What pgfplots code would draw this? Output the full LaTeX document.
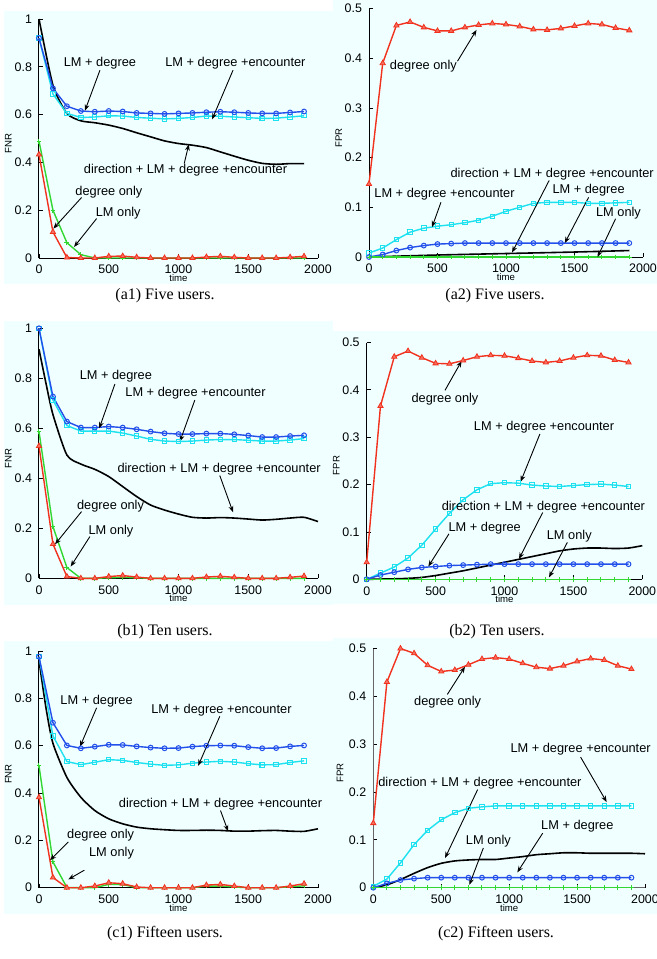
\documentclass[border=0pt]{standalone}
\usepackage{fontspec}
\setmainfont{Liberation Sans}
\newfontfamily\capfont{Liberation Serif}
\usepackage{pgfplots}
\pgfplotsset{compat=1.18}
\usetikzlibrary{arrows.meta}
\definecolor{bgc}{RGB}{240,255,255}
\definecolor{cblue}{RGB}{35,80,235}
\definecolor{ccyan}{RGB}{30,225,240}
\definecolor{cred}{RGB}{240,50,30}
\definecolor{cgreen}{RGB}{50,215,50}
\pgfplotsset{
 panel/.style={scale only axis, anchor=south west, axis x line=bottom, axis y line=left,
  axis line style={-, line width=0.5pt}, enlargelimits=false,
  xmin=0, xmax=2000, xtick={0,500,1000,1500,2000}, xticklabels={0,500,1000,1500,2000},
  tick align=inside, major tick length=2pt, tick style={line width=0.4pt, black},
  tick label style={font=\fontsize{6.2}{7}\selectfont},
  /pgf/number format/assume math mode=true,
  clip=false,
  xlabel=time,
  xlabel style={font=\fontsize{4.8}{5.5}\selectfont, at={(axis description cs:0.5,0)}, anchor=center, yshift=-10pt},
  ylabel style={font=\fontsize{4.8}{5.5}\selectfont, at={(axis description cs:-0.11,0.48)}, anchor=center},
 },
 fnr/.style={ymin=0, ymax=1, ytick={0,0.2,0.4,0.6,0.8,1}, yticklabels={0,0.2,0.4,0.6,0.8,1}, ylabel=FNR},
 fpr/.style={ymin=0, ymax=0.5, ytick={0,0.1,0.2,0.3,0.4,0.5}, yticklabels={0,0.1,0.2,0.3,0.4,0.5}, ylabel=FPR},
 sblack/.style={black, line width=0.8pt, smooth, tension=0.4, no markers},
 scyan/.style={ccyan, line width=0.7pt, mark=square, mark size=1.1pt, mark options={line width=0.5pt}},
 sblue/.style={cblue, line width=0.7pt, mark=o, mark size=1.2pt, mark options={line width=0.5pt}},
 sgreen/.style={cgreen, line width=0.7pt, mark=+, mark size=1.2pt, mark options={line width=0.5pt}},
 sred/.style={cred, line width=0.7pt, mark=triangle*, mark size=1.5pt, mark options={fill=cred!70, line width=0.4pt}},
}
\tikzset{
 annot/.style={font=\fontsize{6.4}{7}\selectfont, inner sep=0pt},
 arr/.style={-{Stealth[length=3.2pt,width=2.4pt]}, line width=0.45pt, black},
}
\begin{document}
\begin{tikzpicture}
\useasboundingbox (0,0) rectangle (328.5pt,-479.5pt);
\fill[white] (0,0) rectangle (328.5pt,-479.5pt);
\fill[bgc] (2pt,-5.5pt) rectangle (166.5pt,-142pt);
\fill[bgc] (166.5pt,0pt) rectangle (328.5pt,-142pt);
\fill[bgc] (2pt,-160.5pt) rectangle (166.5pt,-302.5pt);
\fill[bgc] (166.5pt,-165.5pt) rectangle (328.5pt,-302pt);
\fill[bgc] (2pt,-320.5pt) rectangle (166.5pt,-457pt);
\fill[bgc] (166.5pt,-319pt) rectangle (328.5pt,-457pt);

\node[font=\capfont\fontsize{8}{9}\selectfont] at (82.5pt,-148pt) {(a1) Five users.};
\node[font=\capfont\fontsize{8}{9}\selectfont] at (247.5pt,-148pt) {(a2) Five users.};
\node[font=\capfont\fontsize{8}{9}\selectfont] at (82.5pt,-316pt) {(b1) Ten users.};
\node[font=\capfont\fontsize{8}{9}\selectfont] at (248.5pt,-316pt) {(b2) Ten users.};
\node[font=\capfont\fontsize{8}{9}\selectfont] at (82.5pt,-467pt) {(c1) Fifteen users.};
\node[font=\capfont\fontsize{8}{9}\selectfont] at (248pt,-467pt) {(c2) Fifteen users.};

% ---------------- a1 ----------------
\begin{axis}[panel, fnr, at={(19.5pt,-129pt)}, width=139.5pt, height=119.5pt]
\addplot[sblack] coordinates {(0,1.0)(100,0.723)(200,0.605)(300,0.574)(400,0.566)(500,0.556)(600,0.542)(700,0.524)(800,0.507)(900,0.49)(1000,0.479)(1100,0.472)(1200,0.462)(1300,0.444)(1400,0.426)(1500,0.409)(1600,0.396)(1700,0.392)(1800,0.395)(1900,0.395)};
\addplot[scyan] coordinates {(0,0.92)(100,0.686)(200,0.605)(300,0.588)(400,0.59)(500,0.595)(600,0.594)(700,0.588)(800,0.585)(900,0.582)(1000,0.584)(1100,0.588)(1200,0.594)(1300,0.593)(1400,0.59)(1500,0.587)(1600,0.584)(1700,0.585)(1800,0.59)(1900,0.595)};
\addplot[sblue] coordinates {(0,0.92)(100,0.71)(200,0.635)(300,0.615)(400,0.612)(500,0.615)(600,0.613)(700,0.607)(800,0.605)(900,0.603)(1000,0.605)(1100,0.607)(1200,0.61)(1300,0.612)(1400,0.61)(1500,0.607)(1600,0.605)(1700,0.605)(1800,0.609)(1900,0.613)};
\addplot[sgreen] coordinates {(0,0.489)(100,0.2)(200,0.064)(300,0.014)(400,0)(500,0)(600,0)(700,0)(800,0)(900,0)(1000,0)(1100,0)(1200,0)(1300,0)(1400,0)(1500,0)(1600,0)(1700,0)(1800,0)(1900,0)};
\addplot[sred] coordinates {(0,0.433)(100,0.109)(200,0.002)(300,0)(400,0)(500,0.007)(600,0.008)(700,0.003)(800,0)(900,0)(1000,0)(1100,0)(1200,0.004)(1300,0.007)(1400,0.003)(1500,0)(1600,0)(1700,0)(1800,0.003)(1900,0.007)};
\node[annot] at (axis cs:437,0.814) {LM + degree};
\draw[arr] (axis cs:437,0.786) -- (axis cs:329,0.616);
\node[annot] at (axis cs:1408,0.814) {LM + degree +encounter};
\draw[arr] (axis cs:1391,0.786) -- (axis cs:1241,0.58);
\node[annot] at (axis cs:1050,0.367) {direction + LM + degree +encounter};
\draw[arr] (axis cs:1041,0.395) -- (axis cs:1074,0.476);
\node[annot] at (axis cs:501,0.277) {degree only};
\draw[arr] (axis cs:305,0.253) -- (axis cs:103,0.123);
\node[annot] at (axis cs:568,0.186) {LM only};
\draw[arr] (axis cs:413,0.165) -- (axis cs:251,0.046);
\end{axis}

% ---------------- a2 ----------------
\begin{axis}[panel, fpr, at={(184.5pt,-128.5pt)}, width=137pt, height=124.25pt]
\addplot[sblack] coordinates {(0,0)(500,0.004)(1000,0.007)(1500,0.01)(1900,0.013)};
\addplot[scyan] coordinates {(0,0.008)(100,0.018)(200,0.035)(300,0.05)(400,0.058)(500,0.062)(600,0.065)(700,0.069)(800,0.074)(900,0.082)(1000,0.092)(1100,0.1)(1200,0.108)(1300,0.11)(1400,0.11)(1500,0.11)(1600,0.108)(1700,0.108)(1800,0.109)(1900,0.11)};
\addplot[sblue] coordinates {(0,0)(100,0.005)(200,0.013)(300,0.019)(400,0.023)(500,0.026)(600,0.027)(700,0.028)(800,0.028)(900,0.028)(1000,0.028)(1100,0.028)(1200,0.028)(1300,0.028)(1400,0.028)(1500,0.028)(1600,0.028)(1700,0.028)(1800,0.028)(1900,0.028)};
\addplot[sgreen] coordinates {(0,0)(100,0)(200,0)(300,0)(400,0)(500,0)(600,0)(700,0)(800,0)(900,0)(1000,0)(1100,0)(1200,0)(1300,0)(1400,0)(1500,0)(1600,0)(1700,0)(1800,0)(1900,0)};
\addplot[sred] coordinates {(0,0.147)(100,0.39)(200,0.466)(300,0.473)(400,0.462)(500,0.455)(600,0.455)(700,0.462)(800,0.467)(900,0.47)(1000,0.468)(1100,0.464)(1200,0.458)(1300,0.457)(1400,0.46)(1500,0.465)(1600,0.47)(1700,0.468)(1800,0.461)(1900,0.456)};
\node[annot] at (axis cs:397,0.383) {degree only};
\draw[arr] (axis cs:646,0.394) -- (axis cs:785,0.457);
\node[annot] at (axis cs:551,0.127) {LM + degree +encounter};
\draw[arr] (axis cs:525,0.11) -- (axis cs:460,0.06);
\node[annot] at (axis cs:1337,0.166) {direction + LM + degree +encounter};
\draw[arr] (axis cs:1315,0.154) -- (axis cs:1044,0.009);
\node[annot] at (axis cs:1603,0.134) {LM + degree};
\draw[arr] (axis cs:1603,0.12) -- (axis cs:1429,0.028);
\node[annot] at (axis cs:1821,0.089) {LM only};
\draw[arr] (axis cs:1800,0.077) -- (axis cs:1668,0.0);
\end{axis}

% ---------------- b1 ----------------
\begin{axis}[panel, fnr, at={(19.5pt,-289.15pt)}, width=139.5pt, height=125pt]
\addplot[sblack] coordinates {(0,0.916)(50,0.78)(100,0.655)(200,0.493)(300,0.457)(400,0.436)(500,0.407)(600,0.367)(700,0.327)(800,0.293)(900,0.273)(1000,0.257)(1100,0.244)(1200,0.241)(1300,0.243)(1400,0.241)(1500,0.237)(1600,0.233)(1700,0.236)(1800,0.241)(1900,0.244)(2000,0.227)};
\addplot[scyan] coordinates {(0,1)(100,0.713)(200,0.611)(300,0.589)(400,0.589)(500,0.589)(600,0.581)(700,0.569)(800,0.556)(900,0.549)(1000,0.547)(1100,0.549)(1200,0.553)(1300,0.555)(1400,0.555)(1500,0.552)(1600,0.549)(1700,0.549)(1800,0.553)(1900,0.559)};
\addplot[sblue] coordinates {(0,1)(100,0.727)(200,0.627)(300,0.603)(400,0.603)(500,0.607)(600,0.603)(700,0.596)(800,0.587)(900,0.58)(1000,0.577)(1100,0.577)(1200,0.579)(1300,0.579)(1400,0.576)(1500,0.571)(1600,0.565)(1700,0.565)(1800,0.569)(1900,0.572)};
\addplot[sgreen] coordinates {(0,0.587)(100,0.207)(200,0.043)(300,0)(400,0)(500,0.002)(600,0.004)(700,0.002)(800,0)(900,0)(1000,0)(1100,0)(1200,0)(1300,0)(1400,0)(1500,0)(1600,0)(1700,0)(1800,0)(1900,0)};
\addplot[sred] coordinates {(0,0.529)(100,0.137)(200,0.007)(300,0)(400,0)(500,0.007)(600,0.011)(700,0.005)(800,0)(900,0)(1000,0)(1100,0)(1200,0.005)(1300,0.008)(1400,0.004)(1500,0)(1600,0)(1700,0)(1800,0.004)(1900,0.009)};
\node[annot] at (axis cs:551,0.807) {LM + degree};
\draw[arr] (axis cs:544,0.777) -- (axis cs:432,0.6);
\node[annot] at (axis cs:1122,0.74) {LM + degree +encounter};
\draw[arr] (axis cs:1117,0.713) -- (axis cs:1010,0.547);
\node[annot] at (axis cs:1291,0.437) {direction + LM + degree +encounter};
\draw[arr] (axis cs:1296,0.411) -- (axis cs:1391,0.264);
\node[annot] at (axis cs:513,0.289) {degree only};
\draw[arr] (axis cs:305,0.267) -- (axis cs:115,0.136);
\node[annot] at (axis cs:516,0.187) {LM only};
\draw[arr] (axis cs:365,0.167) -- (axis cs:227,0.047);
\end{axis}

% ---------------- b2 ----------------
\begin{axis}[panel, fpr, at={(183.35pt,-289.65pt)}, width=137.8pt, height=118.4pt]
\addplot[sblack] coordinates {(0,0)(200,0.001)(300,0.002)(400,0.004)(500,0.008)(600,0.013)(700,0.018)(800,0.024)(900,0.03)(1000,0.036)(1100,0.042)(1200,0.048)(1300,0.054)(1400,0.06)(1500,0.064)(1600,0.066)(1700,0.066)(1800,0.065)(1900,0.066)(2000,0.071)};
\addplot[scyan] coordinates {(0,0)(100,0.013)(200,0.026)(300,0.045)(400,0.072)(500,0.106)(600,0.139)(700,0.168)(800,0.189)(900,0.202)(1000,0.204)(1100,0.203)(1200,0.199)(1300,0.197)(1400,0.196)(1500,0.198)(1600,0.2)(1700,0.201)(1800,0.199)(1900,0.196)};
\addplot[sblue] coordinates {(0,0)(100,0.009)(200,0.015)(300,0.021)(400,0.025)(500,0.027)(600,0.029)(700,0.03)(800,0.031)(900,0.032)(1000,0.032)(1100,0.032)(1200,0.032)(1300,0.032)(1400,0.032)(1500,0.032)(1600,0.032)(1700,0.032)(1800,0.032)(1900,0.032)};
\addplot[sgreen] coordinates {(0,0)(100,0)(200,0)(300,0)(400,0)(500,0)(600,0)(700,0)(800,0)(900,0)(1000,0)(1100,0)(1200,0)(1300,0)(1400,0)(1500,0)(1600,0)(1700,0)(1800,0)(1900,0)};
\addplot[sred] coordinates {(0,0.036)(100,0.366)(200,0.47)(300,0.482)(400,0.468)(500,0.456)(600,0.455)(700,0.462)(800,0.47)(900,0.473)(1000,0.472)(1100,0.467)(1200,0.461)(1300,0.458)(1400,0.461)(1500,0.468)(1600,0.473)(1700,0.472)(1800,0.463)(1900,0.458)};
\node[annot] at (axis cs:568,0.38) {degree only};
\draw[arr] (axis cs:568,0.399) -- (axis cs:689,0.461);
\node[annot] at (axis cs:1287,0.322) {LM + degree +encounter};
\draw[arr] (axis cs:1257,0.307) -- (axis cs:1117,0.206);
\node[annot] at (axis cs:1282,0.153) {direction + LM + degree +encounter};
\draw[arr] (axis cs:1277,0.141) -- (axis cs:1105,0.043);
\node[annot] at (axis cs:856,0.108) {LM + degree};
\draw[arr] (axis cs:597,0.096) -- (axis cs:447,0.027);
\node[annot] at (axis cs:1470,0.092) {LM only};
\draw[arr] (axis cs:1456,0.078) -- (axis cs:1323,0.004);
\end{axis}

% ---------------- c1 ----------------
\begin{axis}[panel, fnr, at={(19.5pt,-443.85pt)}, width=139.5pt, height=118.35pt]
\addplot[sblack] coordinates {(0,0.96)(50,0.76)(100,0.61)(200,0.466)(300,0.382)(400,0.326)(500,0.291)(600,0.27)(700,0.256)(800,0.249)(900,0.245)(1000,0.242)(1100,0.242)(1200,0.243)(1300,0.242)(1400,0.239)(1500,0.239)(1600,0.241)(1700,0.242)(1800,0.239)(1900,0.238)(2000,0.249)};
\addplot[scyan] coordinates {(0,0.976)(100,0.641)(200,0.533)(300,0.52)(400,0.53)(500,0.541)(600,0.538)(700,0.529)(800,0.522)(900,0.517)(1000,0.519)(1100,0.526)(1200,0.531)(1300,0.534)(1400,0.531)(1500,0.524)(1600,0.519)(1700,0.52)(1800,0.529)(1900,0.536)};
\addplot[sblue] coordinates {(0,0.976)(100,0.697)(200,0.601)(300,0.589)(400,0.596)(500,0.604)(600,0.603)(700,0.597)(800,0.592)(900,0.589)(1000,0.59)(1100,0.596)(1200,0.6)(1300,0.601)(1400,0.6)(1500,0.594)(1600,0.589)(1700,0.59)(1800,0.597)(1900,0.601)};
\addplot[sgreen] coordinates {(0,0.515)(100,0.109)(200,0.001)(300,0)(400,0)(500,0.014)(600,0.014)(700,0)(800,0)(900,0)(1000,0)(1100,0)(1200,0.007)(1300,0.007)(1400,0.003)(1500,0)(1600,0)(1700,0)(1800,0.004)(1900,0.008)};
\addplot[sred] coordinates {(0,0.382)(100,0.043)(200,0)(300,0)(400,0.007)(500,0.021)(600,0.017)(700,0.003)(800,0)(900,0)(1000,0)(1100,0)(1200,0.011)(1300,0.014)(1400,0.007)(1500,0)(1600,0)(1700,0)(1800,0.007)(1900,0.017)};
\node[annot] at (axis cs:413,0.79) {LM + degree};
\draw[arr] (axis cs:413,0.76) -- (axis cs:294,0.596);
\node[annot] at (axis cs:1308,0.75) {LM + degree +encounter};
\draw[arr] (axis cs:1296,0.724) -- (axis cs:1141,0.515);
\node[annot] at (axis cs:1301,0.354) {direction + LM + degree +encounter};
\draw[arr] (axis cs:1301,0.326) -- (axis cs:1356,0.238);
\node[annot] at (axis cs:442,0.221) {degree only};
\draw[arr] (axis cs:210,0.193) -- (axis cs:79,0.116);
\node[annot] at (axis cs:520,0.144) {LM only};
\draw[arr] (axis cs:325,0.074) -- (axis cs:210,0.035);
\end{axis}

% ---------------- c2 ----------------
\begin{axis}[panel, fpr, at={(186.65pt,-443.85pt)}, width=135.85pt, height=119.6pt,
  axis line style={-, line width=0.7pt, black!60}, ylabel style={at={(axis description cs:-0.122,0.48)}}]
\addplot[sblack] coordinates {(0,0)(100,0.006)(200,0.017)(300,0.03)(400,0.042)(500,0.051)(600,0.056)(700,0.058)(800,0.059)(900,0.059)(1000,0.062)(1100,0.065)(1200,0.069)(1300,0.071)(1400,0.073)(1500,0.073)(1600,0.072)(1700,0.072)(1800,0.072)(1900,0.072)(2000,0.071)};
\addplot[scyan] coordinates {(0,0.003)(100,0.018)(200,0.052)(300,0.09)(400,0.12)(500,0.142)(600,0.157)(700,0.166)(800,0.169)(900,0.171)(1000,0.171)(1100,0.171)(1200,0.171)(1300,0.171)(1400,0.171)(1500,0.171)(1600,0.171)(1700,0.171)(1800,0.171)(1900,0.171)};
\addplot[sblue] coordinates {(0,0)(100,0.009)(200,0.016)(300,0.019)(400,0.021)(500,0.021)(600,0.021)(700,0.021)(800,0.021)(900,0.021)(1000,0.021)(1100,0.021)(1200,0.021)(1300,0.021)(1400,0.021)(1500,0.021)(1600,0.021)(1700,0.021)(1800,0.021)(1900,0.021)};
\addplot[sgreen] coordinates {(0,0)(100,0)(200,0)(300,0)(400,0)(500,0)(600,0)(700,0)(800,0)(900,0)(1000,0)(1100,0)(1200,0)(1300,0)(1400,0)(1500,0)(1600,0)(1700,0)(1800,0)(1900,0)};
\addplot[sred] coordinates {(0,0.135)(100,0.43)(200,0.5)(300,0.49)(400,0.465)(500,0.452)(600,0.455)(700,0.466)(800,0.478)(900,0.481)(1000,0.478)(1100,0.469)(1200,0.461)(1300,0.458)(1400,0.464)(1500,0.473)(1600,0.479)(1700,0.476)(1800,0.464)(1900,0.457)};
\node[annot] at (axis cs:547,0.387) {degree only};
\draw[arr] (axis cs:545,0.404) -- (axis cs:675,0.462);
\node[annot] at (axis cs:1526,0.289) {LM + degree +encounter};
\draw[arr] (axis cs:1526,0.273) -- (axis cs:1718,0.179);
\node[annot] at (axis cs:785,0.219) {direction + LM + degree +encounter};
\draw[arr] (axis cs:768,0.205) -- (axis cs:528,0.062);
\node[annot] at (axis cs:1502,0.128) {LM + degree};
\draw[arr] (axis cs:1247,0.114) -- (axis cs:1060,0.032);
\node[annot] at (axis cs:847,0.097) {LM only};
\draw[arr] (axis cs:810,0.083) -- (axis cs:707,0.006);
\end{axis}
\end{tikzpicture}
\end{document}
